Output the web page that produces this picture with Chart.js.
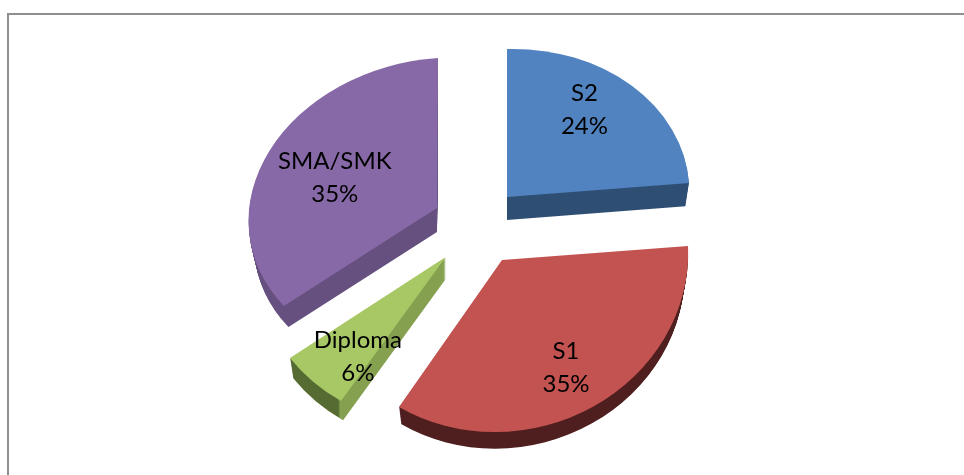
<!DOCTYPE html>
<html><head><meta charset="utf-8">
<style>html,body{margin:0;padding:0;background:#fff;overflow:hidden}
canvas{display:block}
#frame{position:absolute;left:7px;top:13px;right:0;bottom:-5px;border:2px solid #8f8f8f;border-right:none}
</style>
<script src="https://cdn.jsdelivr.net/npm/chart.js@4"></script>
</head><body>
<canvas id="c" width="964" height="475"></canvas>
<div id="frame"></div>
<script>
const categories = ['S2','S1','Diploma','SMA/SMK'];
const values = [24,35,6,35];
const percentLabels = ['24%','35%','6%','35%'];
const topColors = ['#5083BF','#C25350','#A8C765','#8869A7'];
const outerWalls = ['#2F4E73','#4E1F1E','#566B31','#65507F'];
const radialWalls = ['#2F4E73','#4E1F1E','#85A04F','#65507F'];

// perspective approximation: one affine matrix, explode shift and wall per slice
const sliceMatrix = [
  [0.997, 0, -0.0258, 0.809],
  [1.0173, -0.0211, -0.01745, 0.9404],
  [1.0385, -0.0187, -0.009, 0.9264],
  [1.03, -0.0055, -0.0662, 0.8197]
];
const explodeX = [30, 25, -31.3, -40];
const explodeY = [-28, 35, 32, -17];
const wallDepth = [23, 20, 22, 24];
const wallShrink = [0.98, 0.98, 0.98, 0.97];
const labelNudgeX = [-10, 0, 5, 15];
const labelNudgeY = [-9, 5, 12, 10];

const RADIUS = 183, LABEL_FRACTION = 0.7;

const tilt = {
  id:'tilt',
  beforeDatasetDraw(chart){
    const ctx = chart.ctx, arcs = chart.getDatasetMeta(0).data;
    arcs.forEach((arc,i)=>{
      const ax = arc.x + explodeX[i], ay = arc.y + explodeY[i];
      const m = sliceMatrix[i];
      const place = (dy,k) => {
        ctx.translate(ax,ay+dy);
        ctx.transform(m[0],m[2],m[1],m[3],0,0);
        ctx.scale(k,k);
        ctx.translate(-arc.x,-arc.y);
      };
      const saved = arc.options;
      const cornerDx = m[0]*RADIUS*Math.cos(arc.startAngle) + m[1]*RADIUS*Math.sin(arc.startAngle) + 1;
      for(let d=wallDepth[i];d>=1;d--){
        const k = 1-(1-wallShrink[i])*d/wallDepth[i];
        ctx.save();
        const lg = ctx.createLinearGradient(arc.x+(cornerDx-1)/(m[0]*k),0,arc.x+(cornerDx+1)/(m[0]*k),0);
        lg.addColorStop(0,outerWalls[i]); lg.addColorStop(1,radialWalls[i]);
        arc.options = {...saved, backgroundColor:lg, borderWidth:0};
        place(d,k); arc.draw(ctx);
        ctx.restore();
      }
      arc.options = saved;
      ctx.save(); place(0,1); arc.draw(ctx); ctx.restore();
    });
    ctx.fillStyle='#000'; ctx.font='24px Lato'; ctx.textAlign='center'; ctx.textBaseline='middle';
    arcs.forEach((arc,i)=>{
      const mid=(arc.startAngle+arc.endAngle)/2, m=sliceMatrix[i];
      const ux=Math.cos(mid)*RADIUS*LABEL_FRACTION, uy=Math.sin(mid)*RADIUS*LABEL_FRACTION;
      const x=arc.x+explodeX[i]+m[0]*ux+m[1]*uy+labelNudgeX[i];
      const y=arc.y+explodeY[i]+m[2]*ux+m[3]*uy+labelNudgeY[i];
      ctx.fillText(categories[i],x,y-16.5);
      ctx.fillText(percentLabels[i],x,y+16.5);
    });
    return false;
  }
};

new Chart(document.getElementById('c'),{
  type:'pie',
  data:{labels:categories,datasets:[{data:values,backgroundColor:topColors,borderWidth:0,clip:false}]},
  options:{
    responsive:false,animation:false,radius:RADIUS,
    layout:{padding:{left:0,right:10,top:0,bottom:25}},
    plugins:{legend:{display:false},tooltip:{enabled:false},title:{display:false}}
  },
  plugins:[tilt]
});
</script>
</body></html>
